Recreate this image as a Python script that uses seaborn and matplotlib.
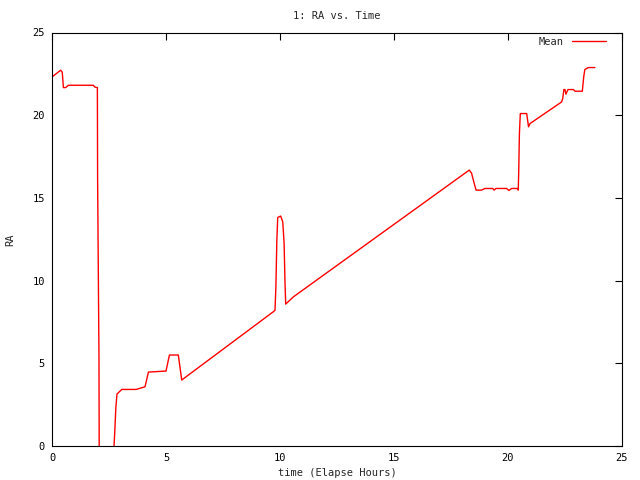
import numpy as np
import pandas as pd
import matplotlib
matplotlib.use("Agg")
import matplotlib.pyplot as plt
import seaborn as sns

# elapsed hours and RA readings (two runs, gap where RA drops below 0)
hours_a = [0.0, 0.38, 0.45, 0.5, 0.6, 0.72, 1.81, 1.88, 1.99, 2.0, 2.06, 2.07]
ra_a = [22.31, 22.72, 22.6, 21.67, 21.67, 21.81, 21.81, 21.7, 21.67, 16.27, 5.4, 0.0]

hours_b = [2.72, 2.75, 2.8, 2.85, 3.06, 3.69, 4.08, 4.23, 5.0, 5.15, 5.54, 5.69,
           9.71, 9.78, 9.82, 9.86, 9.9, 10.03, 10.12, 10.18, 10.22, 10.25, 10.59,
           18.3, 18.4, 18.5, 18.6, 18.84, 18.99, 19.33, 19.39, 19.47,
           19.94, 20.04, 20.16, 20.41, 20.45, 20.47, 20.5, 20.54, 20.82, 20.9, 20.97,
           22.35, 22.4, 22.45, 22.5, 22.54, 22.63, 22.87, 22.94, 23.26, 23.32, 23.37,
           23.52, 23.81]
ra_b = [0.0, 0.78, 2.3, 3.14, 3.42, 3.42, 3.58, 4.47, 4.53, 5.5, 5.5, 3.99,
        8.12, 8.2, 9.63, 12.35, 13.82, 13.9, 13.55, 12.27, 9.85, 8.58, 9.02,
        16.68, 16.5, 15.97, 15.47, 15.47, 15.57, 15.57, 15.47, 15.57,
        15.57, 15.45, 15.57, 15.57, 15.47, 16.57, 18.89, 20.1, 20.1, 19.3, 19.5,
        20.8, 21.0, 21.55, 21.55, 21.27, 21.55, 21.55, 21.45, 21.45, 22.31, 22.76,
        22.88, 22.88]

df = pd.DataFrame({
    "hours": hours_a + hours_b,
    "ra": ra_a + ra_b,
    "seg": [0] * len(hours_a) + [1] * len(hours_b),
})

sns.set_style("white")
plt.rcParams["font.family"] = ["DejaVu Sans Mono"]
plt.rcParams["font.size"] = 7.5

fig = plt.figure(figsize=(6.4, 4.8), dpi=100)
ax = fig.add_axes([52 / 640, 34 / 480, 570 / 640, 413.5 / 480])

sns.lineplot(data=df, x="hours", y="ra", units="seg", estimator=None,
             sort=False, color="red", linewidth=1.0, ax=ax)

ax.set_xlim(0, 25)
ax.set_ylim(0, 25)
ax.set_xticks([0, 5, 10, 15, 20, 25])
ax.set_yticks([0, 5, 10, 15, 20, 25])
ax.tick_params(direction="in", length=5, width=0.8, top=True, right=True,
               labeltop=False, labelright=False, colors="black", pad=5)
for s in ax.spines.values():
    s.set_color("black")
    s.set_linewidth(0.8)

ax.set_title("1: RA vs. Time", fontsize=7.5, pad=10)
ax.set_xlabel("time (Elapse Hours)", fontsize=7.5, labelpad=4)
ax.set_ylabel("RA", fontsize=7.5, rotation=90, va="center")
ax.yaxis.set_label_coords(-42 / 570, 0.5)

line = ax.get_lines()[0]
ax.legend([line], ["Mean"], loc="upper right", frameon=False, markerfirst=False,
          handlelength=3.2, fontsize=7.5, borderaxespad=0.3,
          bbox_to_anchor=(1 - 9 / 570, 1 + 3 / 413))

fig.savefig("out.png", dpi=100)
